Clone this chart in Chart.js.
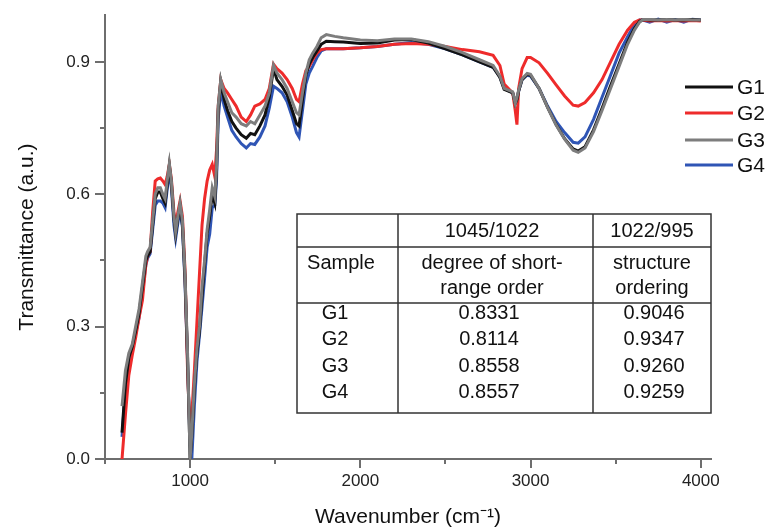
<!DOCTYPE html>
<html><head><meta charset="utf-8">
<script src="https://cdn.jsdelivr.net/npm/chart.js@4.4.1/dist/chart.umd.min.js"></script>
<style>html,body{margin:0;padding:0;background:#fff;}#wrap{width:769px;height:530px;position:relative;}</style>
</head><body><div id="wrap"><canvas id="c" width="769" height="530"></canvas></div>
<script>
// ---- data ----
const wavenumbers = [600,620,640,660,680,700,720,740,750,765,
  780,795,810,825,840,853,865,878,890,905,
  915,928,941,955,970,985,1000,1010,1025,1040,
  1055,1070,1085,1100,1115,1130,1145,1155,1165,1180,
  1200,1220,1245,1270,1300,1330,1355,1380,1410,1440,
  1465,1490,1510,1540,1570,1600,1625,1640,1660,1680,
  1700,1720,1745,1770,1800,1850,1900,2000,2100,2200,
  2300,2400,2500,2600,2700,2780,2820,2845,2870,2895,
  2910,2920,2930,2950,2980,3000,3050,3100,3150,3200,
  3250,3280,3320,3370,3420,3470,3520,3570,3610,3640,
  3660,3700,3750,3800,3850,3900,3950,4000];
const g1 = [0.06,0.17,0.23,0.255,0.29,0.33,0.39,0.45,0.46,0.47,
  0.53,0.59,0.605,0.605,0.59,0.58,0.62,0.665,0.625,0.545,
  0.51,0.545,0.575,0.53,0.41,0.23,0.0,0.05,0.16,0.24,
  0.29,0.37,0.44,0.51,0.55,0.60,0.58,0.65,0.79,0.855,
  0.815,0.79,0.765,0.75,0.735,0.727,0.738,0.735,0.755,0.78,
  0.82,0.885,0.86,0.845,0.825,0.79,0.76,0.755,0.815,0.87,
  0.895,0.91,0.925,0.94,0.947,0.946,0.945,0.942,0.943,0.95,
  0.951,0.943,0.93,0.916,0.90,0.888,0.865,0.838,0.834,0.83,
  0.806,0.815,0.834,0.86,0.872,0.87,0.84,0.797,0.758,0.726,
  0.703,0.698,0.708,0.746,0.795,0.846,0.895,0.945,0.976,0.992,
  0.996,0.995,0.995,0.996,0.995,0.995,0.996,0.995];
const g2 = [0.0,0.10,0.19,0.235,0.275,0.32,0.36,0.44,0.46,0.47,
  0.56,0.63,0.635,0.637,0.63,0.622,0.64,0.668,0.635,0.56,
  0.53,0.56,0.585,0.55,0.43,0.20,0.05,0.10,0.20,0.31,
  0.42,0.53,0.59,0.63,0.655,0.668,0.64,0.70,0.80,0.86,
  0.84,0.83,0.815,0.80,0.775,0.765,0.78,0.80,0.805,0.815,
  0.84,0.895,0.885,0.875,0.86,0.84,0.815,0.81,0.85,0.88,
  0.89,0.905,0.92,0.928,0.93,0.93,0.93,0.932,0.935,0.94,
  0.942,0.94,0.935,0.928,0.923,0.915,0.892,0.85,0.84,0.83,
  0.79,0.758,0.84,0.885,0.91,0.91,0.898,0.874,0.848,0.823,
  0.802,0.80,0.808,0.83,0.86,0.90,0.94,0.972,0.99,0.995,
  0.995,0.993,0.994,0.993,0.994,0.993,0.994,0.993];
const g3 = [0.12,0.20,0.24,0.26,0.30,0.34,0.40,0.46,0.47,0.48,
  0.54,0.60,0.615,0.615,0.60,0.59,0.63,0.67,0.63,0.55,
  0.515,0.55,0.58,0.54,0.42,0.24,0.0,0.06,0.17,0.25,
  0.30,0.39,0.45,0.52,0.565,0.615,0.595,0.66,0.80,0.86,
  0.83,0.81,0.785,0.775,0.76,0.755,0.765,0.76,0.78,0.80,
  0.83,0.893,0.875,0.86,0.84,0.81,0.785,0.78,0.83,0.875,
  0.905,0.92,0.935,0.955,0.962,0.958,0.955,0.95,0.948,0.952,
  0.952,0.946,0.935,0.921,0.905,0.892,0.868,0.84,0.836,0.832,
  0.806,0.82,0.836,0.862,0.874,0.872,0.84,0.797,0.757,0.725,
  0.70,0.695,0.705,0.742,0.79,0.84,0.89,0.94,0.972,0.99,
  0.996,0.996,0.995,0.996,0.995,0.996,0.995,0.995];
const g4 = [0.05,0.16,0.22,0.25,0.285,0.32,0.38,0.44,0.455,0.465,
  0.52,0.575,0.585,0.585,0.58,0.57,0.61,0.655,0.615,0.53,
  0.50,0.535,0.565,0.525,0.40,0.22,0.03,0.0,0.12,0.22,
  0.28,0.345,0.41,0.48,0.51,0.57,0.575,0.63,0.77,0.835,
  0.80,0.775,0.745,0.73,0.715,0.705,0.715,0.713,0.73,0.755,
  0.795,0.845,0.84,0.83,0.81,0.775,0.74,0.73,0.79,0.85,
  0.875,0.89,0.91,0.925,0.93,0.93,0.93,0.932,0.935,0.94,
  0.944,0.94,0.93,0.916,0.90,0.888,0.866,0.84,0.835,0.83,
  0.81,0.812,0.834,0.86,0.87,0.868,0.84,0.80,0.765,0.74,
  0.718,0.716,0.73,0.77,0.82,0.87,0.92,0.957,0.985,0.995,
  0.995,0.99,0.997,0.99,0.996,0.99,0.997,0.995];
const seriesNames = ['G1','G2','G3','G4'];
const seriesColors = ['#111111','#ee2b2b','#7d7d7d','#2f55b5'];
const xMajorTicks = [1000,2000,3000,4000];
const xMinorTicks = [500,1500,2500,3500];
const yMajorTicks = [0.0,0.3,0.6,0.9];
const yMinorTicks = [0.15,0.45,0.75];
// table
const tableHead1 = ['', '1045/1022', '1022/995'];
const tableHead2 = [['Sample'], ['degree of short-','range order'], ['structure','ordering']];
const tableSamples = ['G1','G2','G3','G4'];
const tableShortRange = ['0.8331','0.8114','0.8558','0.8557'];
const tableStructure = ['0.9046','0.9347','0.9260','0.9259'];

const allSeries = [g1,g2,g3,g4];
const drawOrder = [2,3,1,4];
const FONT = "'Liberation Sans', Arial, sans-serif";

const datasets = allSeries.map((vals,i)=>({
  label: seriesNames[i],
  data: wavenumbers.map((w,j)=>({x:w,y:vals[j]})),
  borderColor: seriesColors[i],
  backgroundColor: seriesColors[i],
  borderWidth: 3,
  pointRadius: 0,
  tension: 0,
  fill: false,
  order: drawOrder[i]
}));

const extras = {
  id:'extras',
  afterDraw(chart){
    const ctx = chart.ctx, xs = chart.scales.x, ys = chart.scales.y, ca = chart.chartArea;
    ctx.save();
    // minor ticks
    ctx.strokeStyle = '#6e6e6e'; ctx.lineWidth = 2;
    xMinorTicks.forEach(v=>{const px = Math.round(xs.getPixelForValue(v));
      ctx.beginPath(); ctx.moveTo(px, ca.bottom); ctx.lineTo(px, ca.bottom+5); ctx.stroke();});
    yMinorTicks.forEach(v=>{const py = Math.round(ys.getPixelForValue(v));
      ctx.beginPath(); ctx.moveTo(ca.left, py); ctx.lineTo(ca.left-5, py); ctx.stroke();});
    // legend
    const legY = [87,113,140,165];
    ctx.font = '21px ' + FONT; ctx.textBaseline = 'middle'; ctx.textAlign = 'left';
    seriesNames.forEach((n,i)=>{
      ctx.strokeStyle = seriesColors[i]; ctx.lineWidth = 3;
      ctx.beginPath(); ctx.moveTo(685, legY[i]); ctx.lineTo(733, legY[i]); ctx.stroke();
      ctx.fillStyle = '#111'; ctx.fillText(n, 737, legY[i]+1);
    });
    // table
    const L=297, R=711, T=214, B=413, c1=398, c2=593, r1=247, r2=303;
    ctx.fillStyle = '#fff'; ctx.fillRect(L,T,R-L,B-T);
    ctx.strokeStyle = '#333'; ctx.lineWidth = 1.5;
    ctx.strokeRect(L,T,R-L,B-T);
    ctx.beginPath();
    ctx.moveTo(c1,T); ctx.lineTo(c1,B); ctx.moveTo(c2,T); ctx.lineTo(c2,B);
    ctx.moveTo(L,r1); ctx.lineTo(R,r1); ctx.moveTo(L,r2); ctx.lineTo(R,r2);
    ctx.stroke();
    ctx.fillStyle = '#111'; ctx.textAlign = 'center'; ctx.font = '20px ' + FONT;
    const colX = [341, 492, 652];
    tableHead1.forEach((t,i)=>{ if(t) ctx.fillText(t, colX[i], 231); });
    tableHead2.forEach((lines,i)=>{ lines.forEach((t,k)=>ctx.fillText(t, colX[i], 263 + k*25)); });
    const rowY = [313,339,366,392];
    tableSamples.forEach((s,k)=>{
      ctx.fillText(s, 335, rowY[k]);
      ctx.fillText(tableShortRange[k], 489, rowY[k]);
      ctx.fillText(tableStructure[k], 654, rowY[k]);
    });
    ctx.restore();
  }
};

new Chart(document.getElementById('c'), {
  type: 'line',
  data: { datasets },
  options: {
    responsive: false, animation: false, devicePixelRatio: 1,
    layout: { padding: { top: 13, right: 58, left: 0, bottom: 0 } },
    plugins: { legend: { display: false }, tooltip: { enabled: false } },
    scales: {
      x: {
        type: 'linear', min: 500, max: 4060,
        afterBuildTicks: s => { s.ticks = xMajorTicks.map(v=>({value:v})); },
        afterFit: s => { s.height = 71; },
        ticks: { font: { size: 17, family: FONT }, color: '#222', padding: 3, maxRotation: 0,
                 callback: v => String(v) },
        grid: { drawOnChartArea: false, drawTicks: true, tickLength: 9, tickColor: '#6e6e6e', lineWidth: 2 },
        border: { display: true, color: '#6e6e6e', width: 2 },
        title: { display: true, text: 'Wavenumber (cm⁻¹)', font: { size: 21, family: FONT }, color: '#111', padding: { top: 0, bottom: 0 } }
      },
      y: {
        type: 'linear', min: 0, max: 1.006,
        afterBuildTicks: s => { s.ticks = yMajorTicks.map(v=>({value:v})); },
        afterFit: s => { s.width = 105; },
        ticks: { font: { size: 17, family: FONT }, color: '#222', padding: 5,
                 callback: v => Number(v).toFixed(1) },
        grid: { drawOnChartArea: false, drawTicks: true, tickLength: 10, tickColor: '#6e6e6e', lineWidth: 2 },
        border: { display: true, color: '#6e6e6e', width: 2 },
        title: { display: true, text: 'Transmittance (a.u.)', font: { size: 21, family: FONT }, color: '#111', padding: { top: 15, bottom: 0 } }
      }
    }
  },
  plugins: [extras]
});
</script></body></html>
